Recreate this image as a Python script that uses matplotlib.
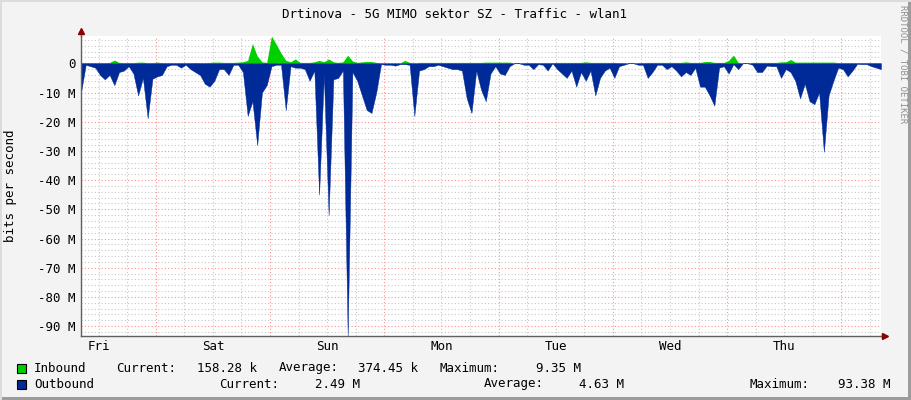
import numpy as np
import matplotlib
matplotlib.use("Agg")
import matplotlib.pyplot as plt
from matplotlib.patches import Rectangle

title = "Drtinova - 5G MIMO sektor SZ - Traffic - wlan1"
day_labels = ["Fri", "Sat", "Sun", "Mon", "Tue", "Wed", "Thu"]
first_midnight = 15.7   # hours from graph start to first midnight (Thu -> Fri)

# hourly samples, Mbit/s
outbound = [
    -10, -0.5, -1, -1.5, -4, -5.5, -4, -7.5, -3, -2.5,
    -1, -3.5, -11, -5, -18.8, -5.3, -4.5, -4, -1, -0.5,
    -0.5, -1.5, -0.5, -2, -3, -4, -7, -8, -6, -2,
    -2, -4, -0.5, -0.5, -3, -18, -13, -28, -10, -7.5,
    -1, -0.5, -0.5, -16, -1, -1.5, -1.5, -2, -6, -2.5,
    -45, -4, -52, -5.5, -5, -2.5, -93.38, -3, -6, -11,
    -16, -17, -10, -0.3, -0.5, -0.5, -0.8, -0.3, -0.3, -0.5,
    -18, -2.5, -2, -1, -1, -0.5, -1, -1.5, -2, -2,
    -2.5, -12, -17, -2.5, -9, -13, -3.5, -1, -3.5, -4,
    -1, 0, 0, -0.5, -0.5, -2, -0.3, -0.5, -2.5, 0,
    -2, -3.5, -5, -2.5, -8, -3, -6, -2.5, -11, -5,
    -2.5, -1.5, -5, -1, -0.5, 0, 0, -0.5, -0.5, -5,
    -3, -0.5, -0.5, -2, -1, -2.5, -4.5, -3, -4, -1.5,
    -8, -8, -11, -14.5, -1.5, -1, -3.5, -0.3, -2, 0,
    0, -0.5, -3, -3, -0.8, -1, -1, -5, -2, -3,
    -6, -12, -7, -13, -14, -10, -30.3, -11, -6, -1.5,
    -2, -4.5, -2.5, -0.2, -0.3, -0.3, -1, -1.5, -2,
]
inbound = [
    0.2, 0.2, 0.2, 0.2, 0.2, 0.2, 0.3, 1.1, 0.3, 0.2,
    0.2, 0.2, 0.4, 0.4, 0.2, 0.2, 0.4, 0.2, 0.2, 0.2,
    0.2, 0.2, 0.2, 0.2, 0.3, 0.2, 0.2, 0.3, 0.4, 0.4,
    0.3, 0.3, 0.3, 0.4, 0.5, 1.0, 6.8, 2.5, 0.5, 0.3,
    9.35, 6.5, 3.5, 1.0, 0.5, 1.5, 0.3, 0.3, 0.3, 0.5,
    1.0, 0.5, 1.5, 0.5, 0.3, 0.5, 2.8, 0.8, 0.3, 0.5,
    0.6, 0.6, 0.3, 0.1, 0.1, 0.1, 0.1, 0.1, 1.0, 0.3,
    0.1, 0.3, 0.3, 0.3, 0.3, 0.3, 0.3, 0.3, 0.3, 0.3,
    0.3, 0.3, 0.3, 0.3, 0.3, 0.4, 0.4, 0.4, 0.4, 0.4,
    0.4, 0, 0, 0.2, 0.2, 0.2, 0.2, 0.2, 0.2, 0.2,
    0.3, 0.3, 0.3, 0.3, 0.3, 0.3, 0.5, 0.3, 0.3, 0.3,
    0.3, 0.3, 0.3, 0.2, 0.2, 0, 0, 0.2, 0.2, 0.3,
    0.3, 0.3, 0.3, 0.3, 0.3, 0.3, 0.3, 0.5, 0.3, 0.3,
    0.3, 0.6, 0.6, 0.3, 0.3, 0.3, 1.0, 2.8, 0.3, 0,
    0, 0.3, 0.3, 0.3, 0.3, 0.3, 0.3, 0.5, 0.5, 1.3,
    0.4, 0.4, 0.4, 0.4, 0.4, 0.4, 0.4, 0.4, 0.4, 0.2,
    0.2, 0.2, 0.2, 0.2, 0.2, 0.2, 0.2, 0.2, 0.2,
]

legend_rows = [
    ("Inbound", "#00CF00", [("Current:", "158.28 k"), ("Average:", "374.45 k"), ("Maximum:", "9.35 M")]),
    ("Outbound", "#002A97", [("Current:", "2.49 M"), ("Average:", "4.63 M"), ("Maximum:", "93.38 M")]),
]

W, H = 911, 400
mono = "DejaVu Sans Mono"
fs = 9
plt.rcParams["font.family"] = mono

def fx(x):
    return x / W

def fy(y):
    return 1 - y / H

hours = np.arange(len(outbound))
out_bits = np.array(outbound) * 1e6
in_bits = np.array(inbound) * 1e6

fig = plt.figure(figsize=(W / 100, H / 100), dpi=100, facecolor="#F3F3F3")
ax = fig.add_axes([fx(81), fy(336), fx(881) - fx(81), fy(36) - fy(336)])
ax.set_facecolor("white")

ax.set_xlim(0, 168)
ax.set_ylim(-93.38e6, 9.35e6)

# grid like rrdtool
midnights = first_midnight + 24 * np.arange(7)
for h in np.arange(first_midnight - 12, 168, 6):
    is_major = any(abs(h - m) < 0.01 for m in midnights)
    ax.axvline(h, color="#FF9090" if is_major else "#C8C8C8", lw=0.8,
               ls=(0, (1, 2)), zorder=1)
for v in np.arange(-92, 9.5, 2):
    major = int(round(v)) % 10 == 0
    ax.axhline(v * 1e6, color="#FF9090" if major else "#C8C8C8", lw=0.8,
               ls=(0, (1, 2)), zorder=1)

ax.fill_between(hours, 0, in_bits, color="#00CF00", lw=0, zorder=2)
ax.fill_between(hours, 0, out_bits, color="#002A97", lw=0.3,
                edgecolor="#002A97", zorder=3)

yt = np.arange(-90, 1, 10)
ax.set_yticks(yt * 1e6, ["0" if v == 0 else "%d M" % v for v in yt])
ax.set_xticks(midnights - 12, day_labels)
ax.tick_params(axis="both", labelsize=fs, colors="#000000", length=0, pad=4)
ax.tick_params(axis="x", pad=3)
ax.set_ylabel("bits per second", fontsize=fs)
ax.yaxis.set_label_coords(-0.08, 0.5)

for s in ["top", "right"]:
    ax.spines[s].set_visible(False)
for s in ["left", "bottom"]:
    ax.spines[s].set_color("#606060")
    ax.spines[s].set_linewidth(1)
    ax.spines[s].set_zorder(5)

# axis arrows
ax.plot([0, 0], [1.0, 1.015], color="#606060", lw=1, transform=ax.transAxes,
        clip_on=False)
ax.plot([0], [1.017], marker="^", color="#8B0000", ms=5, transform=ax.transAxes,
        clip_on=False, zorder=6)
ax.plot([1.0, 1.004], [0, 0], color="#606060", lw=1, transform=ax.transAxes,
        clip_on=False)
ax.plot([1.005], [0], marker=">", color="#8B0000", ms=5, transform=ax.transAxes,
        clip_on=False, zorder=6)

fig.text(fx(455), fy(14), title, ha="center", va="center", fontsize=fs)
fig.text(fx(903), fy(5), "RRDTOOL / TOBI OETIKER", rotation=-90, ha="center",
         va="top", fontsize=6.5, color="#909090")

# legend
label_x = [[116, 197, 279, 358, 440, 536], [219, 315, 484, 579, 749, 838]]
row_y = [368, 384]
for (name, col, stats), xs, y in zip(legend_rows, label_x, row_y):
    fig.patches.append(Rectangle((fx(17), fy(y + 5)), fx(9), 9 / H,
                                 transform=fig.transFigure, facecolor=col,
                                 edgecolor="black", lw=0.8))
    fig.text(fx(34), fy(y), name, va="center", fontsize=fs)
    for i, (k, v) in enumerate(stats):
        fig.text(fx(xs[2 * i]), fy(y), k, va="center", fontsize=fs)
        fig.text(fx(xs[2 * i + 1]), fy(y), v, va="center", fontsize=fs)

# frame (3d look)
fig.patches.append(Rectangle((fx(908), 0), fx(3), 1, transform=fig.transFigure,
                             facecolor="#9C9C9C", lw=0))
fig.patches.append(Rectangle((0, 0), 1, 3 / H, transform=fig.transFigure,
                             facecolor="#9C9C9C", lw=0))
fig.patches.append(Rectangle((0, fy(2)), 1, 2 / H, transform=fig.transFigure,
                             facecolor="#DCDCDC", lw=0))
fig.patches.append(Rectangle((0, 0), fx(2), 1, transform=fig.transFigure,
                             facecolor="#DCDCDC", lw=0))

fig.savefig("out.png", dpi=100, facecolor=fig.get_facecolor())
